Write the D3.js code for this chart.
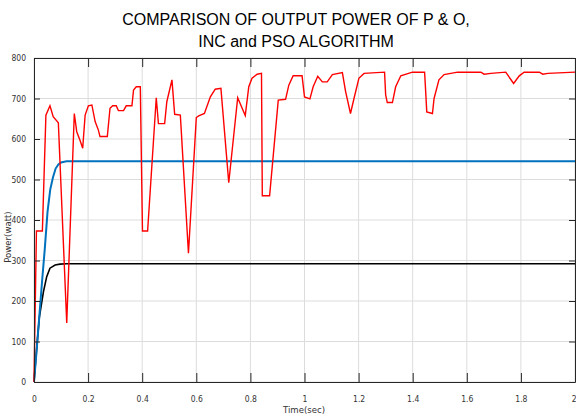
<!DOCTYPE html>
<html>
<head>
<meta charset="utf-8">
<script src="https://cdn.jsdelivr.net/npm/d3@7"></script>
<style>
  body { margin: 0; background: #fff; }
  text { font-family: "Liberation Sans", Arial, sans-serif; }
  .tick-label { font-family: "DejaVu Sans Condensed", "Liberation Sans Narrow", "Liberation Sans", sans-serif; font-size: 8.5px; fill: #333; }
</style>
</head>
<body>
<div id="chart"></div>
<script>
const width = 576
const height = 417
const margin = { top: 58, right: 1, bottom: 35, left: 34 }

// P&O (red)
const redT = [0, 0.009, 0.031, 0.044, 0.059, 0.071, 0.090, 0.121, 0.149, 0.158, 0.170, 0.180, 0.189, 0.201, 0.214,
  0.226, 0.238, 0.244, 0.271, 0.281, 0.291, 0.304, 0.312, 0.331, 0.341, 0.362, 0.368, 0.378, 0.393, 0.401, 0.420,
  0.452, 0.460, 0.483, 0.491, 0.510, 0.520, 0.541, 0.571, 0.600, 0.609, 0.630, 0.652, 0.670, 0.691, 0.720, 0.753,
  0.781, 0.794, 0.806, 0.825, 0.841, 0.844, 0.871, 0.903, 0.930, 0.942, 0.958, 0.991, 1.000, 1.020, 1.032, 1.049,
  1.066, 1.084, 1.103, 1.140, 1.152, 1.170, 1.183, 1.201, 1.220, 1.296, 1.300, 1.306, 1.325, 1.337, 1.356, 1.399,
  1.444, 1.448, 1.452, 1.473, 1.479, 1.497, 1.516, 1.566, 1.652, 1.664, 1.689, 1.744, 1.773, 1.794, 1.812, 1.868,
  1.881, 1.900, 2.0]
const redP = [0, 373, 373, 659, 682, 655, 640, 146, 663, 618, 597, 577, 659, 682, 684,
  643, 622, 606, 606, 676, 682, 682, 670, 670, 682, 682, 721, 729, 729, 373, 373,
  702, 638, 638, 692, 746, 661, 659, 318, 653, 657, 663, 704, 723, 725, 492, 702,
  658, 729, 750, 760, 762, 460, 460, 696, 698, 733, 756, 756, 704, 699, 729, 755,
  741, 741, 759, 764, 717, 663, 700, 750, 762, 765, 709, 690, 690, 729, 756, 765,
  765, 717, 667, 663, 700, 746, 759, 765, 765, 760, 762, 765, 737, 756, 765, 765,
  760, 762, 765]

// INC (blue)
const blueT = [0, 0.010, 0.020, 0.030, 0.040, 0.050, 0.060, 0.070, 0.080, 0.090, 0.100, 0.120, 2.0]
const blueP = [0, 80, 165, 250, 330, 420, 475, 505, 527, 537, 542, 545, 545]

// PSO (black)
const blackT = [0, 0.010, 0.020, 0.035, 0.047, 0.059, 0.078, 0.096, 0.120, 2.0]
const blackP = [0, 85, 161, 223, 260, 281, 289, 291, 292, 292]

const xTicks = [0, 0.2, 0.4, 0.6, 0.8, 1, 1.2, 1.4, 1.6, 1.8, 2]
const yTicks = [0, 100, 200, 300, 400, 500, 600, 700, 800]

const svg = d3.select("#chart")
  .append("svg")
    .attr("width", width)
    .attr("height", height)

const x = d3.scaleLinear().domain([0, 2]).range([margin.left, width - margin.right])
const y = d3.scaleLinear().domain([0, 800]).range([height - margin.bottom, margin.top])

// grid
svg.append("g")
  .selectAll("line")
  .data(xTicks)
  .enter()
  .append("line")
  .attr("x1", d => x(d)).attr("x2", d => x(d))
  .attr("y1", y(0)).attr("y2", y(800))
  .attr("stroke", "#dcdcdc")
svg.append("g")
  .selectAll("line")
  .data(yTicks)
  .enter()
  .append("line")
  .attr("x1", x(0)).attr("x2", x(2))
  .attr("y1", d => y(d)).attr("y2", d => y(d))
  .attr("stroke", "#dcdcdc")

// series
const line = d3.line().x(d => x(d[0])).y(d => y(d[1]))

svg.append("path")
  .datum(d3.zip(blackT, blackP))
  .attr("d", line)
  .attr("fill", "none")
  .attr("stroke", "#000")
  .style("stroke-width", "1.6px")

svg.append("path")
  .datum(d3.zip(blueT, blueP))
  .attr("d", line)
  .attr("fill", "none")
  .attr("stroke", "#0072bd")
  .style("stroke-width", "2px")

svg.append("path")
  .datum(d3.zip(redT, redP))
  .attr("d", line)
  .attr("fill", "none")
  .attr("stroke", "#ff0000")
  .style("stroke-width", "1.4px")

// axes (ticks inside)
const xAxis = d3.axisBottom(x).tickValues(xTicks).tickSizeInner(-9).tickSizeOuter(0)
  .tickPadding(14).tickFormat(d3.format("~g"))
const gx = svg.append("g")
  .attr("transform", "translate(0," + y(0) + ")")
  .call(xAxis)
gx.selectAll("text").attr("class", "tick-label")
gx.selectAll("text").filter(d => d === 2).attr("text-anchor", "end").attr("dx", "1")

const xTop = d3.axisTop(x).tickValues(xTicks).tickSizeInner(-9).tickSizeOuter(0).tickFormat("")
svg.append("g")
  .attr("transform", "translate(0," + y(800) + ")")
  .call(xTop)

const yAxis = d3.axisLeft(y).tickValues(yTicks).tickSizeInner(-6).tickSizeOuter(0).tickPadding(8)
const gy = svg.append("g")
  .attr("transform", "translate(" + x(0) + ",0)")
  .call(yAxis)
gy.selectAll("text").attr("class", "tick-label")

const yRight = d3.axisRight(y).tickValues(yTicks).tickSizeInner(-6).tickSizeOuter(0).tickFormat("")
svg.append("g")
  .attr("transform", "translate(" + x(2) + ",0)")
  .call(yRight)

svg.selectAll(".domain").attr("stroke", "#262626")
svg.selectAll(".tick line").attr("stroke", "#262626")

// titles
svg.append("text")
  .attr("x", 296).attr("y", 25)
  .attr("text-anchor", "middle")
  .style("font-size", "16px")
  .text("COMPARISON OF OUTPUT POWER OF P & O,")
svg.append("text")
  .attr("x", 296).attr("y", 47)
  .attr("text-anchor", "middle")
  .style("font-size", "16px")
  .text("INC and PSO ALGORITHM")

svg.append("text")
  .attr("class", "tick-label")
  .attr("x", 304).attr("y", 413)
  .attr("text-anchor", "middle")
  .style("font-size", "9.5px")
  .text("Time(sec)")

svg.append("text")
  .attr("class", "tick-label")
  .attr("transform", "translate(11,237) rotate(-90)")
  .attr("text-anchor", "middle")
  .style("font-size", "9.5px")
  .text("Power(watt)")
</script>
</body>
</html>
